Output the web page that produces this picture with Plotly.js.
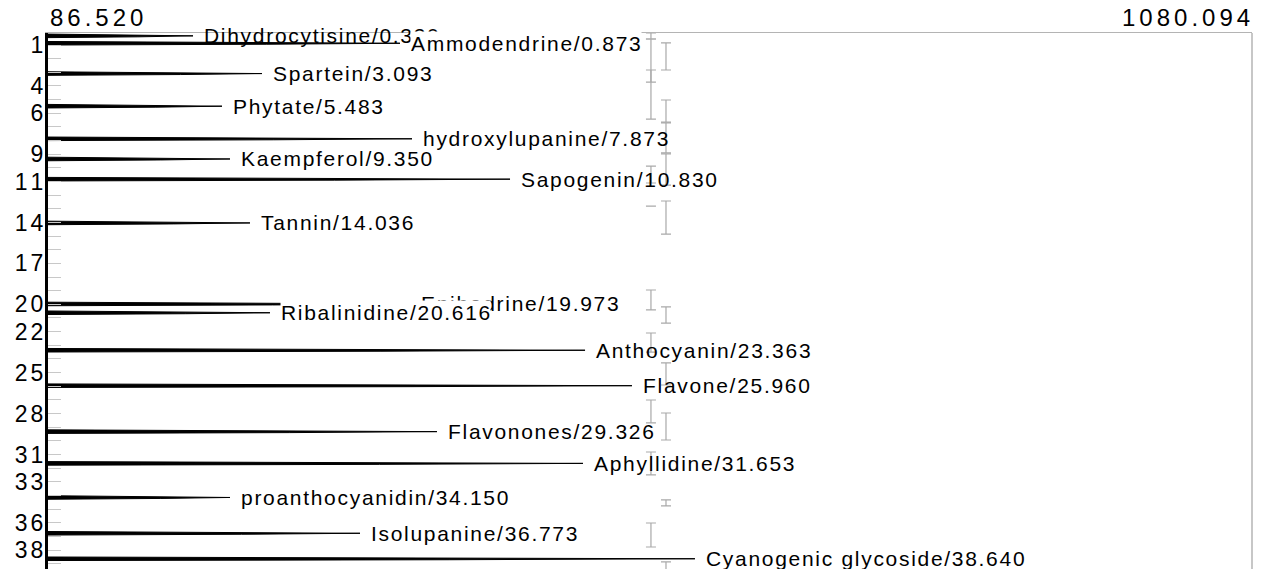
<!DOCTYPE html>
<html>
<head>
<meta charset="utf-8">
<script src="https://cdn.plot.ly/plotly-3.0.1.min.js"></script>
<style>
html,body{margin:0;padding:0;background:#fff;}
#chart{width:1262px;height:569px;}
</style>
</head>
<body>
<div id="chart"></div>
<script>
// ---- data ----
const compounds = ['Dihydrocytisine','Ammodendrine','Spartein','Phytate','hydroxylupanine','Kaempferol',
  'Sapogenin','Tannin','Epihedrine','Ribalinidine','Anthocyanin','Flavone','Flavonones','Aphyllidine',
  'proanthocyanidin','Isolupanine','Cyanogenic glycoside'];
const retentionTimes = [0.330,0.873,3.093,5.483,7.873,9.350,10.830,14.036,19.973,20.616,23.363,25.960,
  29.326,31.653,34.150,36.773,38.640];
const peakIntensities = [206.2,377.0,263.1,230.1,386.9,236.7,467.8,253.2,385.2,269.7,529.7,568.4,
  407.5,528.0,236.7,344.0,620.4];

const yTickValues = [1,4,6,9,11,14,17,20,22,25,28,31,33,36,38];
const xRangeValues = [86.520, 1080.094];

// replicate variability bars (two columns)
const seriesAIntensity = 584.1;
const seriesAMeans  = [0.34,2.14,4.63,10.49,12.80,19.68,22.80,27.85,31.66,36.90];
const seriesAErrors = [0.22,1.58,1.80,0.62,0.00,0.73,0.70,0.84,0.84,0.88];
const seriesBIntensity = 596.5;
const seriesBMeans  = [1.84,5.84,7.81,10.12,13.64,20.78,25.10,28.95,34.55,39.90];
const seriesBErrors = [0.99,0.81,1.10,1.14,1.21,0.59,0.81,0.99,0.22,1.03];

// ---- build figure ----
const FONT = 'Liberation Sans, Arial, sans-serif';
const coverLabels = new Set(['Ammodendrine','Ribalinidine']);
const traces = [];
const x0 = xRangeValues[0];
const halfW = 0.13;
compounds.forEach((name, i) => {
  const t = retentionTimes[i], xe = peakIntensities[i];
  const xm = x0 + 0.62 * (xe - x0);
  traces.push({
    type: 'scatter', mode: 'lines', fill: 'toself', fillcolor: '#000',
    x: [x0, xm, xe, xm, x0, x0],
    y: [t - halfW, t - halfW * 0.55, t, t + halfW * 0.55, t + halfW, t - halfW],
    line: {color: '#000', width: 1}, hoverinfo: 'skip', showlegend: false
  });
});
function errTrace(xv, means, errs) {
  return {
    type: 'scatter', mode: 'markers',
    x: means.map(() => xv), y: means,
    marker: {size: 1, color: 'rgba(0,0,0,0)'},
    error_y: {type: 'data', symmetric: true, array: errs, color: '#a9a9a9', thickness: 1.2, width: 5},
    showlegend: false, hoverinfo: 'skip'
  };
}
traces.push(errTrace(seriesAIntensity, seriesAMeans, seriesAErrors));
traces.push(errTrace(seriesBIntensity, seriesBMeans, seriesBErrors));

// letter-spaced text without trailing space after the last character
const ls = (txt, px) => txt.length > 1
  ? `<span style="letter-spacing:${px}px">${txt.slice(0, -1)}</span>${txt.slice(-1)}`
  : txt;

const annotations = compounds.map((name, i) => ({
  x: peakIntensities[i], y: retentionTimes[i], xref: 'x', yref: 'y',
  xanchor: 'left', yanchor: 'middle', xshift: 10, showarrow: false,
  text: ls(name + '/' + retentionTimes[i].toFixed(3), 1.7),
  font: {family: FONT, size: 21, color: '#000'},
  bgcolor: coverLabels.has(name) ? '#fff' : 'rgba(0,0,0,0)', borderpad: 0
}));
annotations.push({
  x: xRangeValues[0], y: 1, xref: 'x', yref: 'paper', xanchor: 'left', yanchor: 'bottom',
  yshift: 0, showarrow: false, text: ls(xRangeValues[0].toFixed(3), 4),
  font: {family: FONT, size: 24, color: '#000'}
});
annotations.push({
  x: xRangeValues[1], y: 1, xref: 'x', yref: 'paper', xanchor: 'right', yanchor: 'bottom',
  yshift: 0, xshift: 0, showarrow: false, text: ls(xRangeValues[1].toFixed(3), 4),
  font: {family: FONT, size: 24, color: '#000'}
});

const layout = {
  width: 1262, height: 569,
  margin: {l: 48, r: 10, t: 33, b: 0},
  paper_bgcolor: '#fff', plot_bgcolor: '#fff',
  showlegend: false,
  xaxis: {range: xRangeValues, side: 'top', showline: true, linecolor: '#b4b4b4', linewidth: 1.5,
    showgrid: false, zeroline: false, showticklabels: false, ticks: ''},
  yaxis: {range: [39.39, 0.121], showline: true, linecolor: '#000', linewidth: 3,
    showgrid: false, zeroline: false, tickmode: 'array', tickvals: yTickValues,
    ticktext: yTickValues.map(v => ls(String(v), 3)),
    ticks: 'inside', ticklen: 13, tickcolor: '#c8c8c8', tickwidth: 1,
    ticklabelstandoff: -3,
    tickfont: {family: FONT, size: 23, color: '#000'},
    minor: {dtick: 1, tick0: 0, ticks: 'inside', ticklen: 13, tickcolor: '#c8c8c8', tickwidth: 1}},
  shapes: [{type: 'line', xref: 'paper', yref: 'paper', x0: 1, x1: 1, y0: 0, y1: 1,
    line: {color: '#b4b4b4', width: 1.5}}],
  annotations: annotations
};

Plotly.newPlot('chart', traces, layout, {staticPlot: true, displayModeBar: false});
</script>
</body>
</html>
